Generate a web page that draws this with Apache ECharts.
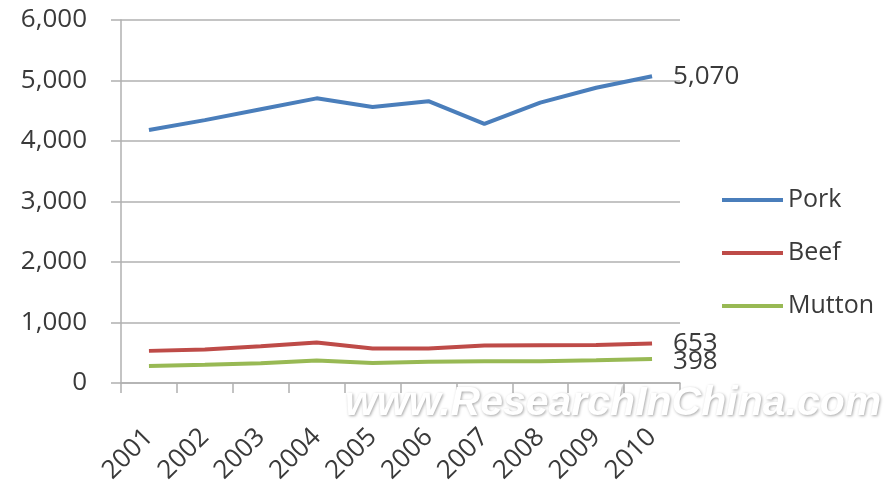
<!DOCTYPE html>
<html>
<head>
<meta charset="utf-8">
<script src="https://cdn.jsdelivr.net/npm/echarts@6/dist/echarts.min.js"></script>
<style>html,body{margin:0;padding:0;background:#fff;}#c{width:884px;height:482px;}</style>
</head>
<body>
<div id="c"></div>
<script>
var years = ['2001','2002','2003','2004','2005','2006','2007','2008','2009','2010'];
var pork = [4183, 4345, 4525, 4705, 4562, 4658, 4283, 4635, 4880, 5070];
var beef = [531, 555, 607, 668, 570, 572, 618, 625, 627, 653];
var mutton = [280, 302, 325, 373, 332, 352, 358, 358, 374, 398];
var yTicks = [0, 1000, 2000, 3000, 4000, 5000, 6000];

var font = 'Open Sans';
var txt = '#3a3a3a';
function mk(name, data, color, off) {
  return {
    name: name, type: 'line', data: data, symbol: 'none', smooth: false,
    lineStyle: { color: color, width: 4 }, itemStyle: { color: color },
    endLabel: {
      show: true, distance: 21, color: txt, fontFamily: font, fontSize: 26,
      offset: [0, off],
      formatter: function (p) { return Number(p.value).toLocaleString('en-US'); }
    }
  };
}
var chart = echarts.init(document.getElementById('c'));
chart.setOption({
  animation: false,
  grid: { left: 121, right: 204, top: 20, bottom: 99, containLabel: false, outerBoundsMode: 'none' },
  legend: {
    orient: 'vertical', left: 717, top: 182, itemWidth: 61, itemHeight: 4, itemGap: 27,
    icon: 'rect',
    textStyle: { fontFamily: font, fontSize: 25, color: txt, lineHeight: 26 },
    data: ['Pork', 'Beef', 'Mutton']
  },
  xAxis: {
    type: 'category', data: years, boundaryGap: true,
    axisLine: { lineStyle: { color: '#b0b0b0', width: 1.5 } },
    axisTick: { show: true, length: 10, lineStyle: { color: '#b0b0b0', width: 1.5 } },
    axisLabel: { rotate: 45, margin: 50, fontFamily: font, fontSize: 26, color: txt, interval: 0 }
  },
  yAxis: {
    type: 'value', min: yTicks[0], max: yTicks[yTicks.length - 1], interval: 1000,
    axisLine: { show: true, lineStyle: { color: '#b0b0b0', width: 1.5 } },
    axisTick: { show: true, length: 10, lineStyle: { color: '#b0b0b0', width: 1.5 } },
    splitLine: { lineStyle: { color: '#b0b0b0', width: 1.5 } },
    axisLabel: { margin: 34, fontFamily: font, fontSize: 26, color: txt,
      formatter: function (v) { return v.toLocaleString('en-US'); } }
  },
  series: [
    mk('Pork', pork, '#4a7ebb', 0),
    mk('Beef', beef, '#be4b48', 0),
    mk('Mutton', mutton, '#98b954', 3)
  ],
  graphic: [{
    type: 'text', left: 345, top: 383, z: 100,
    style: {
      text: 'www.ResearchInChina.com', fill: '#ffffff',
      font: 'italic bold 41px "Liberation Sans", Arial, sans-serif',
      textShadowColor: 'rgba(0,0,0,0.35)', textShadowBlur: 3,
      textShadowOffsetX: 1, textShadowOffsetY: 1
    }
  }]
});
</script>
</body>
</html>
